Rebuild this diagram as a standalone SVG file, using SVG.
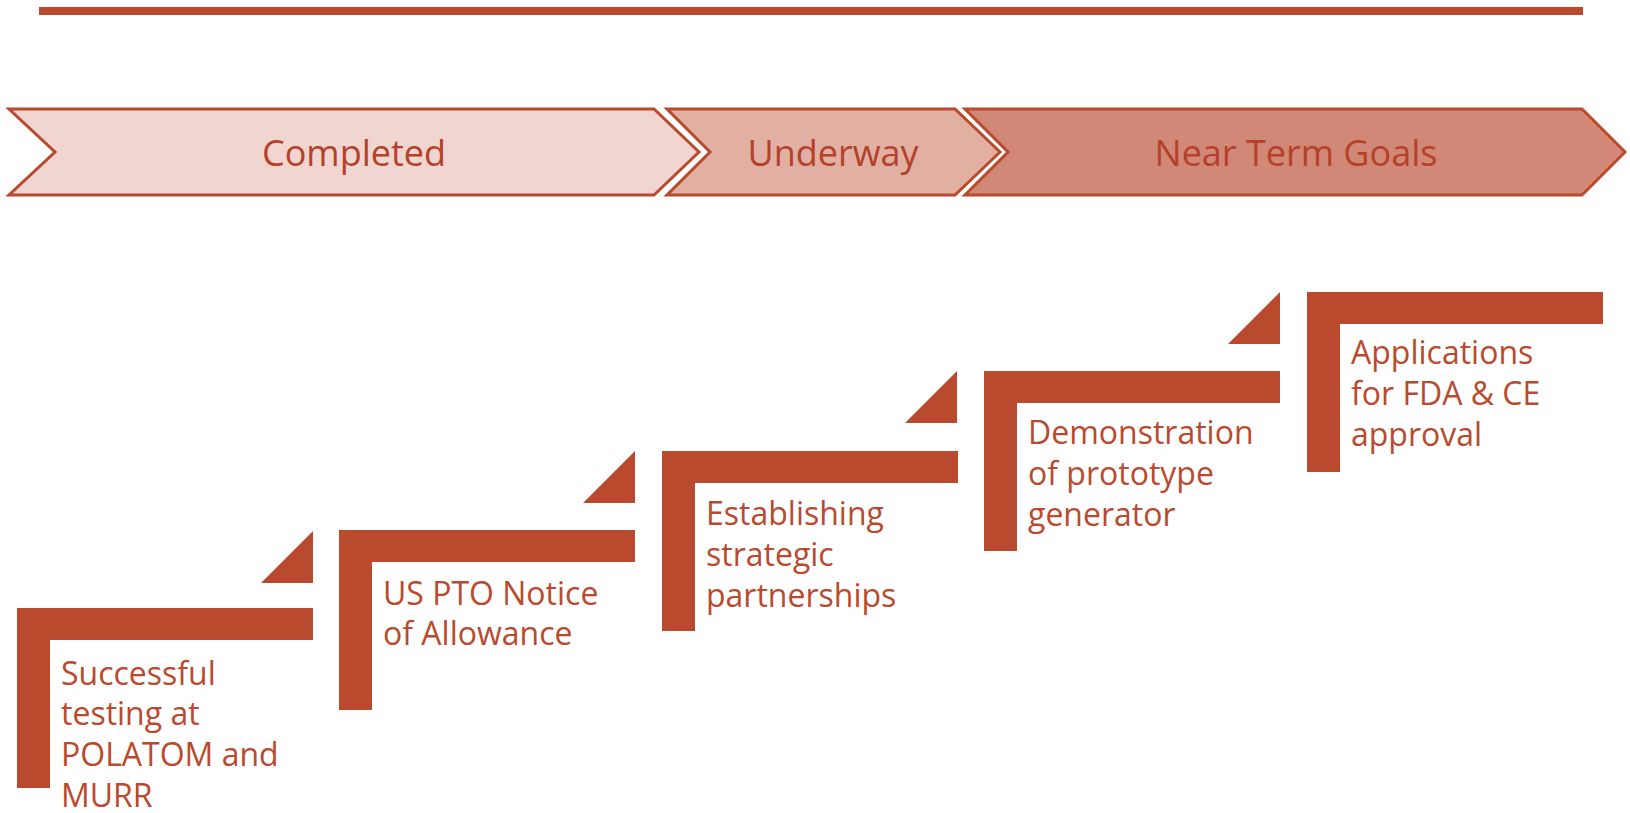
<svg xmlns="http://www.w3.org/2000/svg" width="1630" height="813" viewBox="0 0 1630 813">
  <style>
    .phase { stroke: #B94A2E; stroke-width: 3; stroke-linejoin: miter; }
    .phase-label { font-family: "Open Sans", "Noto Sans", sans-serif; font-size: 36px; fill: #B5412A; text-anchor: middle; }
    .bar { fill: #B94A2E; }
    .step-label { font-family: "Open Sans", "Noto Sans", sans-serif; font-size: 32px; fill: #B94A2E; }
  </style>
  <defs>
    <!-- L-shaped step: horizontal tread with a vertical riser on its left -->
    <path id="stepShape" d="M0,0 H296 V32 H33 V180 H0 Z"/>
    <!-- small right-angled wedge that leads into the next step -->
    <path id="wedge" d="M52,0 V52 H0 Z"/>
  </defs>

  <rect id="topRule" x="39" y="7" width="1544" height="8" fill="#B94A2E"/>

  <g id="phase-completed">
    <path class="phase" fill="#F0D5D0" d="M9,109 H654 L699,152 L654,195 H9 L55,152 Z"/>
    <text class="phase-label" x="354" y="166">Completed</text>
  </g>
  <g id="phase-underway">
    <path class="phase" fill="#E1B0A3" d="M667,109 H955 L1000,152 L955,195 H667 L710,152 Z"/>
    <text class="phase-label" x="833" y="166">Underway</text>
  </g>
  <g id="phase-near-term">
    <path class="phase" fill="#D28876" d="M965,109 H1582 L1625,152 L1582,195 H965 L1008,152 Z"/>
    <text class="phase-label" x="1296" y="166">Near Term Goals</text>
  </g>

  <g id="connectors">
    <use href="#wedge" class="bar" x="261" y="531"/>
    <use href="#wedge" class="bar" x="583" y="451"/>
    <use href="#wedge" class="bar" x="905" y="371"/>
    <use href="#wedge" class="bar" x="1228" y="292"/>
  </g>

  <g id="step-1">
    <use href="#stepShape" class="bar" x="17" y="608"/>
    <text class="step-label" x="61" y="685">Successful</text>
    <text class="step-label" x="61" y="725">testing at</text>
    <text class="step-label" x="61" y="766">POLATOM and</text>
    <text class="step-label" x="61" y="807">MURR</text>
  </g>
  <g id="step-2">
    <use href="#stepShape" class="bar" x="339" y="530"/>
    <text class="step-label" x="383" y="605">US PTO Notice</text>
    <text class="step-label" x="383" y="645">of Allowance</text>
  </g>
  <g id="step-3">
    <use href="#stepShape" class="bar" x="662" y="451"/>
    <text class="step-label" x="706" y="525">Establishing</text>
    <text class="step-label" x="706" y="566">strategic</text>
    <text class="step-label" x="706" y="607">partnerships</text>
  </g>
  <g id="step-4">
    <use href="#stepShape" class="bar" x="984" y="371"/>
    <text class="step-label" x="1028" y="444">Demonstration</text>
    <text class="step-label" x="1028" y="485">of prototype</text>
    <text class="step-label" x="1028" y="526">generator</text>
  </g>
  <g id="step-5">
    <use href="#stepShape" class="bar" x="1307" y="292"/>
    <text class="step-label" x="1351" y="364">Applications</text>
    <text class="step-label" x="1351" y="405">for FDA &amp; CE</text>
    <text class="step-label" x="1351" y="446">approval</text>
  </g>
</svg>
